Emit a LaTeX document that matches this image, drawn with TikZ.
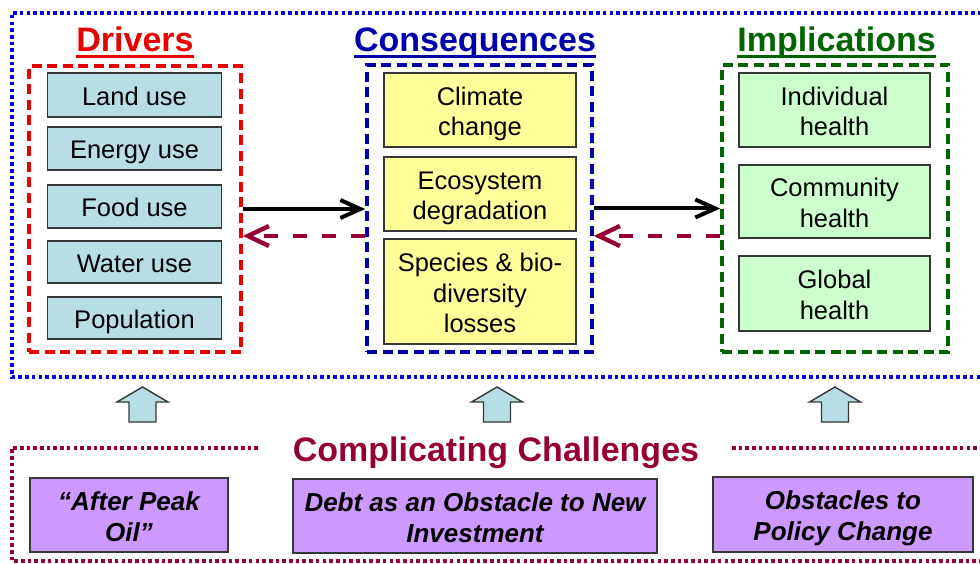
\documentclass[tikz,border=0pt]{standalone}
\usepackage{fontspec}
\setmainfont{Liberation Sans}
\usetikzlibrary{arrows.meta}

\definecolor{drvfill}{RGB}{183,222,228}
\definecolor{confill}{RGB}{255,255,153}
\definecolor{impfill}{RGB}{204,255,204}
\definecolor{chlfill}{RGB}{204,153,255}
\definecolor{drvred}{RGB}{235,0,0}
\definecolor{conblue}{RGB}{0,0,170}
\definecolor{impgreen}{RGB}{0,100,0}
\definecolor{chlmaroon}{RGB}{150,0,50}
\definecolor{frameblue}{RGB}{0,0,225}
\definecolor{edgegray}{RGB}{55,55,55}

% invisible rules: full ascent on the first line, full descent on the last
\newcommand\topstrut{\rule{0pt}{26.4pt}}
\newcommand\botstrut{\rule[-5.4pt]{0pt}{5.4pt}}

\begin{document}
\begin{tikzpicture}[x=1pt,y=-1pt,
  box/.style={draw=edgegray, line width=1.5pt, inner sep=0pt, align=center,
    font=\fontsize{25.5}{30.5}\selectfont},
  chlbox/.style={box, fill=chlfill, font=\fontsize{26}{31}\selectfont\bfseries\itshape},
  grpframe/.style={line width=3.6pt, dash pattern=on 10pt off 5.5pt, inner sep=0pt},
  title/.style={inner sep=0pt, font=\fontsize{34}{40}\selectfont\bfseries},
  dotted frame/.style={line width=4pt, dash pattern=on 3.6pt off 3.1pt},
  fwd/.style={line width=4pt, -{Straight Barb[length=20pt,width=18pt]}},
  back/.style={chlmaroon, line width=4.4pt, dash pattern=on 14pt off 15pt,
    -{Straight Barb[length=21pt,width=20pt]}},
  uparrow/.style={fill=drvfill, draw=edgegray, line width=1.4pt, line join=miter}
]
\useasboundingbox (0,0) rectangle (980,564);
\clip (0,0) rectangle (980,564);

% outer dotted frames
\draw[dotted frame, frameblue] (995,13) -- (12,13) -- (12,377) -- (995,377);
\draw[dotted frame, chlmaroon] (258,447.5) -- (12,447.5) -- (12,561) -- (995,561);
\draw[dotted frame, chlmaroon] (732,447.5) -- (995,447.5);

% column titles
\node[title, text=drvred, anchor=base] (drvtitle) at (135,52) {Drivers};
\node[title, text=conblue, anchor=base] (contitle) at (475,52) {Consequences};
\node[title, text=impgreen, anchor=base] (imptitle) at (836.5,52) {Implications};
\draw[drvred, line width=3pt] ([yshift=-5pt]drvtitle.base west) -- ([yshift=-5pt]drvtitle.base east);
\draw[conblue, line width=3pt] ([yshift=-5pt]contitle.base west) -- ([yshift=-5pt]contitle.base east);
\draw[impgreen, line width=3pt] ([yshift=-5pt]imptitle.base west) -- ([yshift=-5pt]imptitle.base east);

% group frames
\node[grpframe, draw=drvred, minimum width=212, minimum height=286] (drvframe) at (135,209) {};
\node[grpframe, draw=conblue, minimum width=225, minimum height=287] (conframe) at (479.5,208.5) {};
\node[grpframe, draw=impgreen, minimum width=226, minimum height=287] (impframe) at (835,208.5) {};

% drivers
\node[box, fill=drvfill, minimum width=174, minimum height=44] (land) at (134.5,95) {\topstrut Land use\botstrut};
\node[box, fill=drvfill, minimum width=174, minimum height=43] (energy) at (134.5,148.5) {\topstrut Energy use\botstrut};
\node[box, fill=drvfill, minimum width=174, minimum height=43] (food) at (134.5,206.5) {\topstrut Food use\botstrut};
\node[box, fill=drvfill, minimum width=174, minimum height=42] (water) at (134.5,262) {\topstrut Water use\botstrut};
\node[box, fill=drvfill, minimum width=174, minimum height=42] (pop) at (134.5,318) {\topstrut Population\botstrut};

% consequences
\node[box, fill=confill, minimum width=192, minimum height=74] (climate) at (480,110) {\topstrut Climate\\change\botstrut};
\node[box, fill=confill, minimum width=192, minimum height=74] (eco) at (480,194) {\topstrut Ecosystem\\degradation\botstrut};
\node[box, fill=confill, minimum width=192, minimum height=105] (species) at (480,291.5) {\topstrut Species \& bio-\\diversity\\losses\botstrut};

% implications
\node[box, fill=impfill, minimum width=191, minimum height=74] (indiv) at (834.5,110) {\topstrut Individual\\health\botstrut};
\node[box, fill=impfill, minimum width=191, minimum height=73] (commun) at (834.5,201.5) {\topstrut Community\\health\botstrut};
\node[box, fill=impfill, minimum width=191, minimum height=75] (global) at (834.5,293.5) {\topstrut Global\\health\botstrut};

% links between the groups
\draw[fwd] (drvframe.east) -- (drvframe.east -| conframe.west);
\draw[fwd] (conframe.east) -- (conframe.east -| impframe.west);
\draw[back] ([yshift=-27.5pt]conframe.west) -- ([yshift=-27.5pt]conframe.west -| drvframe.east);
\draw[back] ([yshift=-27.5pt]impframe.west) -- ([yshift=-27.5pt]impframe.west -| conframe.east);

% upward block arrows
\foreach \cx in {142.5,497,835}
  \draw[uparrow] ({\cx-25.5},402) -- (\cx,387) -- ({\cx+25.5},402) -- ({\cx+13.5},402)
    -- ({\cx+13.5},422) -- ({\cx-13.5},422) -- ({\cx-13.5},402) -- cycle;

% complicating challenges
\node[title, text=chlmaroon, anchor=base] (chltitle) at (496,461) {Complicating Challenges};
\node[chlbox, minimum width=198, minimum height=74] (peak) at (129,515) {\topstrut“After Peak\\Oil”\botstrut};
\node[chlbox, minimum width=364, minimum height=74] (debt) at (475,516) {\topstrut Debt as an Obstacle to New\\Investment\botstrut};
\node[chlbox, minimum width=260, minimum height=75] (policy) at (843,514.5) {\topstrut Obstacles to\\Policy Change\botstrut};
\end{tikzpicture}
\end{document}
